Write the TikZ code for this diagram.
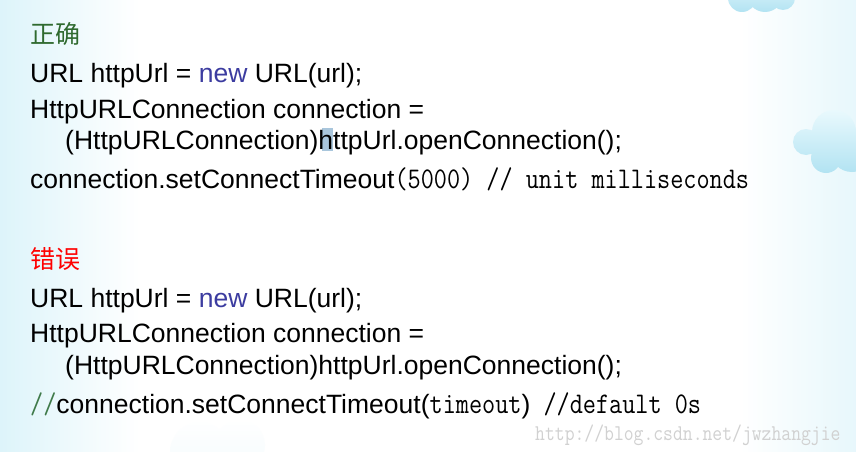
\documentclass[tikz,border=0pt]{standalone}
\usepackage{graphicx}
\usepackage{fontspec}
\setmainfont{Liberation Sans}
\newfontfamily\zhfont{Noto Sans CJK SC}
\usetikzlibrary{positioning}
\definecolor{keyblue}{HTML}{3C3CA0}
\definecolor{okgreen}{HTML}{2F6A2F}
\definecolor{markbox}{HTML}{A9C6DC}
\definecolor{skyedge}{HTML}{DDF4FA}
\definecolor{cloudlo}{HTML}{B2E3F2}
\definecolor{cloudhi}{HTML}{E9F9FD}
\definecolor{slashgreen}{HTML}{3F7A4A}
\newcommand\cmono[1]{\scalebox{0.85}[1]{\ttfamily\fontsize{30}{32}\selectfont #1}}

\begin{document}
\begin{tikzpicture}[x=1pt,y=-1pt,
		codeline/.style={anchor=base west,inner sep=0pt,font=\fontsize{26.5}{30}\selectfont},
		titleline/.style={anchor=base west,inner sep=0pt,font=\zhfont\fontsize{25}{28}\selectfont},
		puff/.style={top color=cloudhi,bottom color=cloudlo}]
	\useasboundingbox (0,0) rectangle (856,452);
	% background
	\fill[white] (0,0) rectangle (856,452);
	\shade[left color=skyedge,right color=white] (0,0) rectangle (140,452);
	\shade[left color=white,right color=skyedge!70] (740,0) rectangle (856,452);
	% clouds
	\shade[puff] (742,-2) circle (14) (765,-6) circle (18) (783,-2) circle (12);
	\shade[puff] (806,142) circle (13) (834,132) circle (22) (852,150) circle (22) (826,158) circle (15);
	\shade[top color=white,bottom color=skyedge!60,opacity=0.6] (200,452) circle (30) (240,445) circle (25);
	% highlight
	\fill[markbox] (322,128) rectangle (333,151);

	% right way
	\node[titleline,text=okgreen] (okhead) at (30,44) {正确};
	\node[codeline] (okurl) at (30,82) {URL httpUrl = \textcolor{keyblue}{new} URL(url);};
	\node[codeline] (okconn) at (30,118) {HttpURLConnection connection =};
	\node[codeline] (okcast) at (65,149) {(HttpURLConnection)httpUrl.openConnection();};
	\node[codeline] (okset) at (30,188) {connection.setConnectTimeout\cmono{(5000) // unit milliseconds}};

	% wrong way
	\node[titleline,text=red] (badhead) at (30,268) {错误};
	\node[codeline] (badurl) at (30,307) {URL httpUrl = \textcolor{keyblue}{new} URL(url);};
	\node[codeline] (badconn) at (30,342) {HttpURLConnection connection =};
	\node[codeline] (badcast) at (65,374) {(HttpURLConnection)httpUrl.openConnection();};
	\node[codeline] (badset) at (30,413) {\textcolor{slashgreen}{\cmono{//}}connection.setConnectTimeout(\cmono{timeout})\cmono{ //default 0s}};

	% watermark
	\node[anchor=base west,inner sep=0pt,text=black!18] (mark) at (535,440) {\scalebox{0.85}[1]{\ttfamily\fontsize{22.5}{24}\selectfont http://blog.csdn.net/jwzhangjie}};
\end{tikzpicture}
\end{document}
